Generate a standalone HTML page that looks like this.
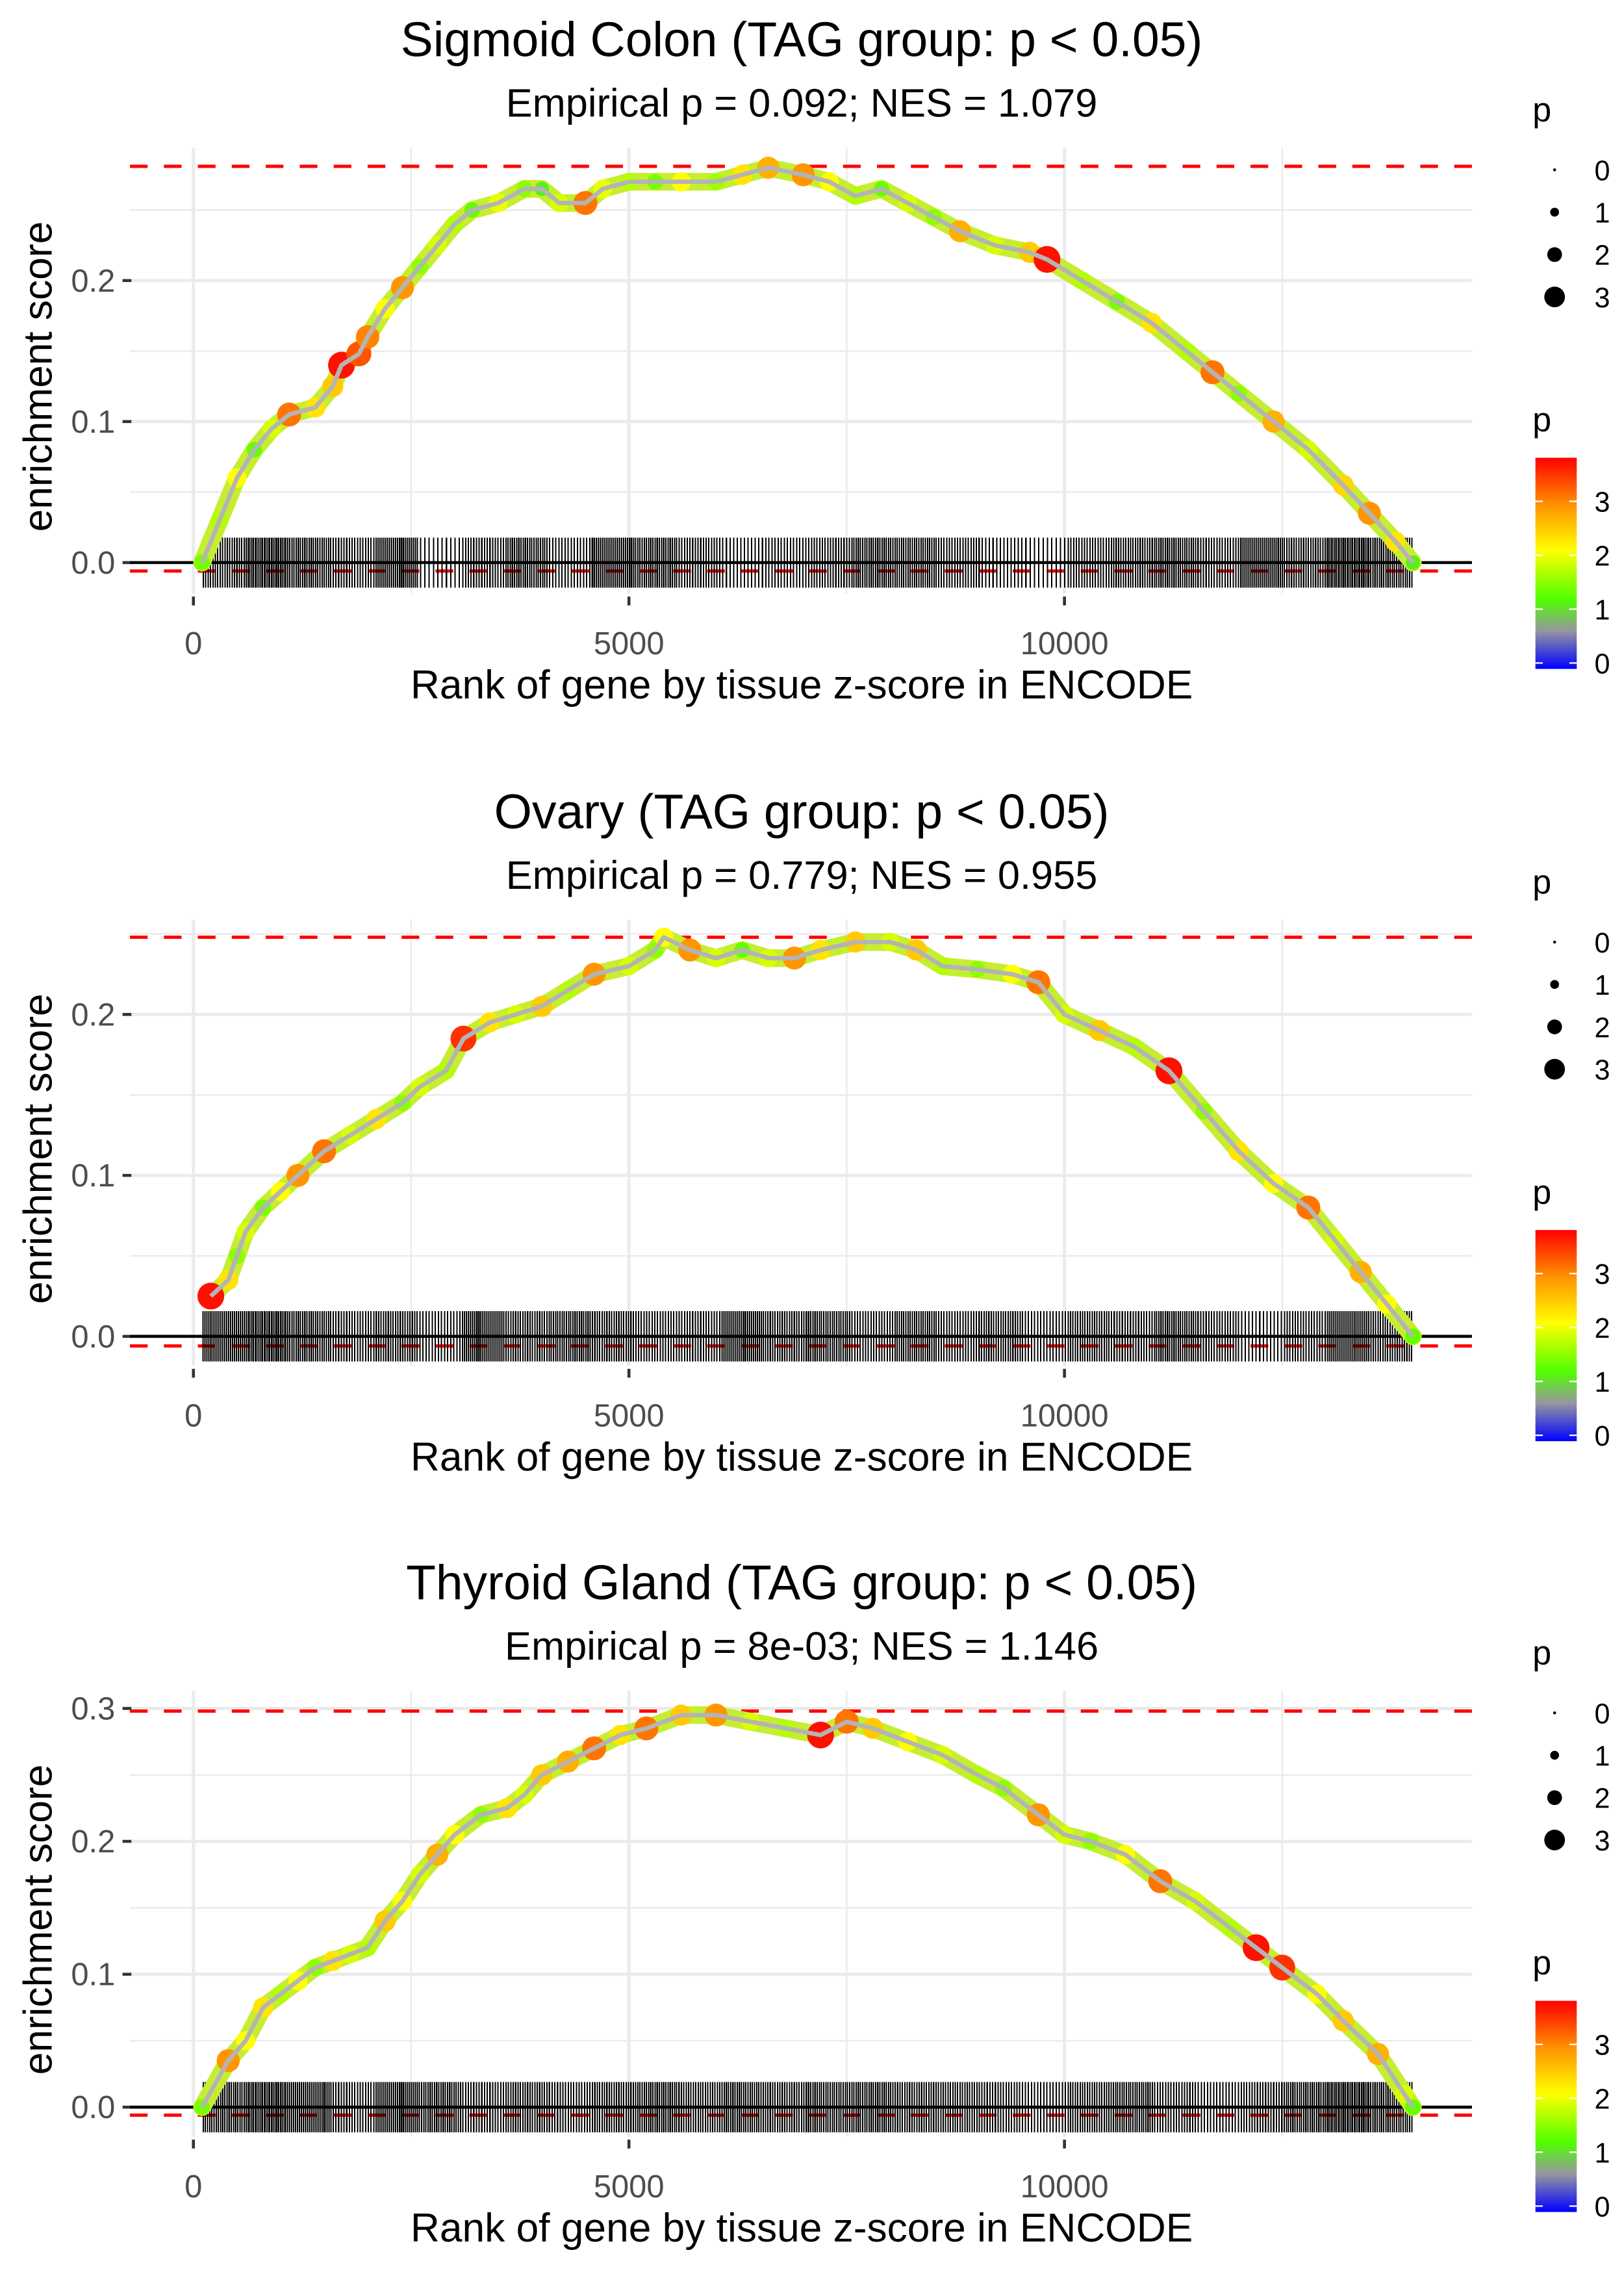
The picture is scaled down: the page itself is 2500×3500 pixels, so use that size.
<!DOCTYPE html>
<html><head><meta charset="utf-8"><style>
html,body{margin:0;padding:0;background:#fff;}
svg{display:block;font-family:"Liberation Sans",Arial,sans-serif;}
</style></head><body>
<svg id="chart" width="2500" height="3500" viewBox="0 0 1100 1540" preserveAspectRatio="none" xmlns="http://www.w3.org/2000/svg"></svg>
<script>
// ---- data ----
const panelTitles = ["Sigmoid Colon (TAG group: p < 0.05)","Ovary (TAG group: p < 0.05)","Thyroid Gland (TAG group: p < 0.05)"];
const panelSubtitles = ["Empirical p = 0.092; NES = 1.079","Empirical p = 0.779; NES = 0.955","Empirical p = 8e-03; NES = 1.146"];
const esMax = [0.281, 0.248, 0.298];
const esMin = [-0.006, -0.006, -0.006];
const xTicks = [0, 5000, 10000];
const yTicks1 = [0.0, 0.1, 0.2];
const yTicks2 = [0.0, 0.1, 0.2];
const yTicks3 = [0.0, 0.1, 0.2, 0.3];

const rank1 = [100,300,500,700,900,1100,1400,1600,1700,1900,2000,2200,2400,2600,2800,3000,3200,3500,3800,4000,4200,4500,4700,5000,5300,5600,6000,6300,6600,7000,7300,7600,7900,8200,8500,8800,9200,9600,9800,10200,10600,11000,11400,11700,12000,12400,12800,13200,13500,13800,14000];
const es1 = [0.0,0.03,0.06,0.08,0.095,0.105,0.11,0.125,0.14,0.148,0.16,0.18,0.195,0.21,0.225,0.24,0.25,0.255,0.265,0.265,0.255,0.255,0.265,0.27,0.27,0.27,0.27,0.275,0.28,0.275,0.27,0.26,0.265,0.255,0.245,0.235,0.225,0.22,0.215,0.2,0.185,0.17,0.15,0.135,0.12,0.1,0.08,0.055,0.035,0.015,0.0];
const p1 = [1.5,1.8,2.2,1.4,2.0,3.2,2.4,2.6,3.8,3.4,3.1,2.2,3.0,1.6,2.0,1.8,1.4,2.1,1.6,1.2,2.0,3.2,2.1,1.8,1.5,2.2,1.7,2.4,2.8,3.0,2.2,1.8,1.4,2.0,1.6,2.8,2.0,2.6,3.8,1.8,1.5,2.4,1.8,3.2,1.6,2.8,2.0,2.5,3.0,2.4,1.2];

const rank2 = [200,400,500,600,800,1000,1200,1500,1800,2100,2400,2600,2900,3100,3400,3700,4000,4300,4600,5000,5300,5400,5700,6000,6300,6600,6900,7200,7600,8000,8300,8600,9000,9400,9700,10000,10400,10800,11200,11600,12000,12400,12800,13100,13400,13700,14000];
const es2 = [0.025,0.035,0.05,0.065,0.08,0.09,0.1,0.115,0.125,0.135,0.145,0.155,0.165,0.185,0.195,0.2,0.205,0.215,0.225,0.23,0.24,0.248,0.24,0.235,0.24,0.235,0.235,0.24,0.245,0.245,0.24,0.23,0.228,0.225,0.22,0.2,0.19,0.18,0.165,0.14,0.115,0.095,0.08,0.06,0.04,0.02,0.0];
const p2 = [3.8,2.4,1.6,2.0,1.5,2.2,3.0,3.2,2.0,2.4,1.6,2.0,1.8,3.6,2.4,2.0,2.6,1.8,3.0,2.0,1.6,2.2,3.0,2.0,1.4,2.0,3.0,2.4,2.6,2.0,2.6,1.8,1.6,2.2,3.2,2.0,2.6,1.8,3.8,1.6,2.4,2.2,3.2,2.0,2.8,2.2,1.4];

const rank3 = [100,400,600,800,1000,1200,1400,1600,1800,2000,2200,2400,2600,2800,3000,3300,3600,3800,4000,4300,4600,4900,5200,5600,6000,6400,6800,7200,7500,7800,8200,8600,9000,9300,9700,10000,10300,10700,11100,11500,11900,12200,12500,12900,13200,13600,13900,14000];
const es3 = [0.0,0.035,0.05,0.075,0.085,0.095,0.105,0.11,0.115,0.12,0.14,0.155,0.175,0.19,0.205,0.22,0.225,0.235,0.25,0.26,0.27,0.28,0.285,0.295,0.295,0.29,0.285,0.28,0.29,0.285,0.275,0.265,0.25,0.24,0.22,0.205,0.2,0.19,0.17,0.155,0.135,0.12,0.105,0.085,0.065,0.04,0.01,0.0];
const p3 = [1.5,3.0,2.2,2.4,1.8,2.2,1.6,2.4,2.0,1.8,2.6,2.2,2.0,2.8,2.2,1.6,2.4,2.0,2.6,2.8,3.2,2.4,3.2,2.6,3.0,2.0,1.8,3.8,3.2,2.6,2.2,2.0,1.8,1.6,3.0,2.0,1.6,2.2,3.2,2.0,1.8,3.8,3.6,2.2,2.6,2.8,2.0,1.4];

// rug density: ticks per 500-rank bin, 28 bins (0-14000)
const rugCounts1 = [18,24,20,16,22,10,16,20,14,22,20,16,12,14,16,20,20,16,12,10,16,18,20,16,22,18,24,20];
const rugCounts2 = [22,24,20,16,18,14,22,18,20,18,16,16,22,18,20,16,20,16,18,14,18,16,20,16,12,16,22,18];
const rugCounts3 = [20,24,22,16,22,20,16,18,16,18,20,18,20,18,20,20,18,18,16,14,18,20,16,14,16,20,24,20];

// ---- layout ----
const NS="http://www.w3.org/2000/svg";
const svg=document.getElementById('chart');
function el(tag,attrs,parent){const e=document.createElementNS(NS,tag);for(const k in attrs)e.setAttribute(k,attrs[k]);(parent||svg).appendChild(e);return e;}
function colorP(p){
  const stops=[[0,[0,0,255]],[0.7,[150,150,160]],[1.3,[80,255,0]],[2.2,[255,255,0]],[3.0,[255,150,0]],[3.9,[255,0,0]]];
  for(let i=1;i<stops.length;i++){if(p<=stops[i][0]){const a=stops[i-1],b=stops[i];const t=(p-a[0])/(b[0]-a[0]);const c=a[1].map((v,j)=>Math.round(v+(b[1][j]-v)*t));return `rgb(${c[0]},${c[1]},${c[2]})`;}}
  return 'rgb(255,0,0)';
}
const L=88,R=997;
const xScale=r=>131+r*0.059;
const panels=[
 {off:0,zero:381,ppu:955,ranks:rank1,es:es1,p:p1,yt:yTicks1,rug:rugCounts1},
 {off:523,zero:905,ppu:1090,ranks:rank2,es:es2,p:p2,yt:yTicks2,rug:rugCounts2},
 {off:1045,zero:1427,ppu:900,ranks:rank3,es:es3,p:p3,yt:yTicks3,rug:rugCounts3}
];
panels.forEach((P,i)=>{
  const g=el('g',{});
  
  
  const y=v=>P.zero-v*P.ppu;
  const top=P.off+100, bot=P.off+402;
  for(let r=0;r<=12500;r+=2500){const major=r%5000===0;const gl=el('line',{x1:xScale(r),x2:xScale(r),y1:top,y2:bot,stroke:'#ebebeb','stroke-width':major?2.2:1.1},g);}
  const ymax=P.yt[P.yt.length-1]+0.05;
  for(let v=0;v<=ymax+1e-9;v+=0.05){const major=Math.abs(v*10-Math.round(v*10))<1e-6;const yy=y(v);if(yy<top)continue;const gl=el('line',{x1:L,x2:R,y1:yy,y2:yy,stroke:'#ebebeb','stroke-width':major?2.2:1.1},g);}
  const t=el('text',{x:543,y:P.off+38,'text-anchor':'middle','font-size':33,fill:'#000'},g);t.textContent=panelTitles[i];
  
  const st=el('text',{x:543,y:P.off+79,'text-anchor':'middle','font-size':27,fill:'#000'},g);st.textContent=panelSubtitles[i];
  
  P.yt.forEach(v=>{const yy=y(v);
    const tk=el('line',{x1:83,x2:89,y1:yy,y2:yy,stroke:'#333','stroke-width':2},g);
    const tl=el('text',{x:78,y:yy+7.5,'text-anchor':'end','font-size':21.5,fill:'#4d4d4d'},g);tl.textContent=v.toFixed(1);});
  xTicks.forEach(r=>{const xx=xScale(r);
    const tk=el('line',{x1:xx,x2:xx,y1:bot+2,y2:bot+8,stroke:'#333','stroke-width':2},g);
    const tl=el('text',{x:xx,y:P.off+443,'text-anchor':'middle','font-size':21.5,fill:'#4d4d4d'},g);tl.textContent=r;});
  const xt=el('text',{x:543,y:P.off+473,'text-anchor':'middle','font-size':27.4,fill:'#000'},g);xt.textContent='Rank of gene by tissue z-score in ENCODE';
  
  const ymid=(top+bot)/2+4;
  const yt=el('text',{x:0,y:0,'text-anchor':'middle','font-size':27.4,fill:'#000',transform:`translate(35,${ymid}) rotate(-90)`},g);yt.textContent='enrichment score';
  
  const d1=el('line',{x1:L,x2:R,y1:y(esMax[i]),y2:y(esMax[i]),stroke:'#ff0000','stroke-width':2.2,'stroke-dasharray':'12 11'},g);
  const d2=el('line',{x1:L,x2:R,y1:y(esMin[i]),y2:y(esMin[i]),stroke:'#ff0000','stroke-width':2.2,'stroke-dasharray':'12 11'},g);
  let rp='';
  P.rug.forEach((c,b)=>{for(let k=0;k<c;k++){const r=100+b*500*(13900/14000)+ (k+0.5)*500/c*(13900/14000);const xx=xScale(r).toFixed(2);rp+=`M${xx} ${P.zero-17}V${P.zero+17}`;}});
  const rug=el('path',{d:rp,stroke:'#000','stroke-width':0.9,fill:'none','shape-rendering':'crispEdges'},g);
  const z=el('line',{x1:L,x2:R,y1:P.zero,y2:P.zero,stroke:'#000','stroke-width':2},g);
  const pts=P.ranks.map((r,j)=>[xScale(r),y(P.es[j])]);
  const dpath='M'+pts.map(q=>q[0].toFixed(1)+' '+q[1].toFixed(1)).join('L');
  const band=el('path',{d:dpath,stroke:'#c6ee30',"stroke-width":12,fill:'none','stroke-linejoin':'round','stroke-linecap':'round'},g);
  P.ranks.forEach((r,j)=>{const c=el('circle',{cx:xScale(r),cy:y(P.es[j]),r:3+P.p[j]*1.6,fill:colorP(P.p[j])},g);
    });
  const ln=el('path',{d:dpath,stroke:'#b4b4b4','stroke-width':3,fill:'none','stroke-linejoin':'round'},g);
  const lg=el('g',{},g);
  const lt=el('text',{x:1038,y:P.off+82,'font-size':23,fill:'#000'},lg);lt.textContent='p';
  [0,1,2,3].forEach((v,k)=>{const yy=P.off+115+k*28.7;
    el('circle',{cx:1053,cy:yy,r:[1,3,5,7][k],fill:'#000'},lg);
    const tx=el('text',{x:1080,y:yy+7,'font-size':19,fill:'#000'},lg);tx.textContent=v;});
  const cg=el('g',{},g);
  const ct=el('text',{x:1038,y:P.off+292,'font-size':23,fill:'#000'},cg);ct.textContent='p';
  const gid='grad'+i;
  const defs=el('defs',{},cg);const lgd=el('linearGradient',{id:gid,x1:0,y1:1,x2:0,y2:0},defs);
  [[0,'#0000ff'],[0.18,'#9696a0'],[0.33,'#50ff00'],[0.56,'#ffff00'],[0.77,'#ff9600'],[1,'#ff0000']].forEach(s=>el('stop',{offset:s[0],'stop-color':s[1]},lgd));
  el('rect',{x:1040,y:P.off+310,width:28,height:143,fill:`url(#${gid})`},cg);
  [0,1,2,3].forEach(v=>{const yy=P.off+449-v*36.5;
    el('line',{x1:1040,x2:1045,y1:yy,y2:yy,stroke:'#fff','stroke-width':1},cg);el('line',{x1:1063,x2:1068,y1:yy,y2:yy,stroke:'#fff','stroke-width':1},cg);
    const tx=el('text',{x:1080,y:yy+7,'font-size':19,fill:'#000'},cg);tx.textContent=v;});
});
</script>
</body></html>
